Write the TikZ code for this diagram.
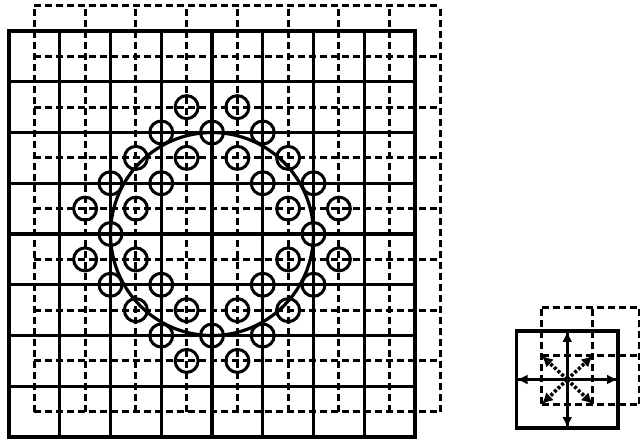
\documentclass[tikz,border=0pt]{standalone}
\usetikzlibrary{arrows.meta}
\begin{document}
\begin{tikzpicture}[x=50.75pt,y=50.75pt,
  solidline/.style={line width=3.2pt,line cap=rect},
  dashline/.style={line width=3pt,dash pattern=on 7pt off 4pt},
  bigring/.style={line width=3.2pt},
  ring/.style={line width=3pt},
  solidarrow/.style={line width=3.2pt,-{Latex[length=11pt,width=10pt]}},
  dasharrow/.style={line width=3.6pt,dash pattern=on 3pt off 2pt,-{Latex[length=11pt,width=11pt]}}]
\useasboundingbox (-0.1773,-0.0985) rectangle (12.433,8.611);
\fill[white] (-0.1773,-0.0985) rectangle (12.433,8.611);
% dashed grid (shifted half a cell)
\foreach \i in {0.5,1.5,...,8.5} {
  \draw[dashline] (\i,0.5) -- (\i,8.5);
  \draw[dashline] (0.5,\i) -- (8.5,\i);
}
% solid grid
\foreach \i in {0,...,8} {
  \draw[solidline] (\i,0) -- (\i,8);
  \draw[solidline] (0,\i) -- (8,\i);
}
% big circle
\draw[bigring] (4,4) circle (2);
% small circles on solid grid points
\foreach \x/\y in {2/3,2/4,2/5,3/2,3/3,3/5,3/6,4/2,4/6,5/2,5/3,5/5,5/6,6/3,6/4,6/5}
  \draw[ring] (\x,\y) circle[radius=11.5pt];
% small circles on dashed grid points
\foreach \x/\y in {3.5/6.5,4.5/6.5,2.5/5.5,3.5/5.5,4.5/5.5,5.5/5.5,1.5/4.5,2.5/4.5,5.5/4.5,6.5/4.5,1.5/3.5,2.5/3.5,5.5/3.5,6.5/3.5,2.5/2.5,3.5/2.5,4.5/2.5,5.5/2.5,3.5/1.5,4.5/1.5}
  \draw[ring] (\x,\y) circle[radius=11.5pt];
% small figure
\foreach \yy in {0.65,1.6,2.56} \draw[dashline] (10.5,\yy) -- (12.42,\yy);
\foreach \xx in {10.5,11.5,12.42} \draw[dashline] (\xx,0.65) -- (\xx,2.56);
\draw[solidline] (10,0.177) rectangle (12,2.09);
\draw[solidline] (11,0.177) -- (11,2.09);
\draw[solidline] (10,1.133) -- (12,1.133);
\coordinate (c) at (11,1.133);
\coordinate (n) at (11,2.09);
\coordinate (s) at (11,0.177);
\coordinate (w) at (10,1.133);
\coordinate (e) at (12,1.133);
\coordinate (nw) at (10.5,1.6);
\coordinate (ne) at (11.5,1.6);
\coordinate (sw) at (10.5,0.65);
\coordinate (se) at (11.5,0.65);
\foreach \t in {n,s,w,e} \draw[solidarrow] (c) -- (\t);
\foreach \t in {nw,ne,sw,se} \draw[dasharrow] (c) -- (\t);
\fill (c) circle[radius=3.5pt];
\end{tikzpicture}
\end{document}
